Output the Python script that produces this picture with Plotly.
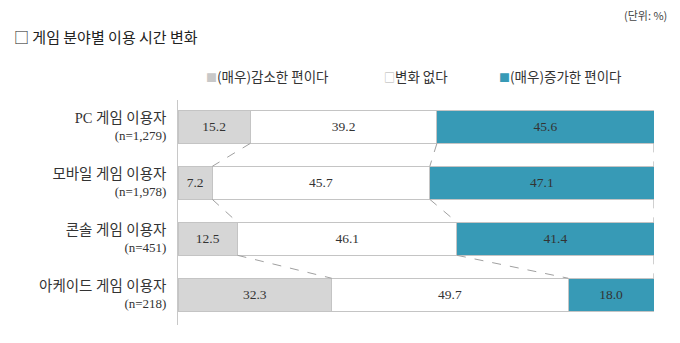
import plotly.graph_objects as go

cat_names = ["PC 게임 이용자", "모바일 게임 이용자", "콘솔 게임 이용자", "아케이드 게임 이용자"]
cat_n = ["(n=1,279)", "(n=1,978)", "(n=451)", "(n=218)"]
decreased = [15.2, 7.2, 12.5, 32.3]
no_change = [39.2, 45.7, 46.1, 49.7]
increased = [45.6, 47.1, 41.4, 18.0]
series_names = ["(매우)감소한 편이다", "변화 없다", "(매우)증가한 편이다"]

categories = [f'<span style="font-size:14.5px">{a}</span><br>{b}' for a, b in zip(cat_names, cat_n)]
pos = list(range(len(categories)))
BW = 0.59
colors = ["#d6d6d6", "#ffffff", "#379ab6"]
series = [decreased, no_change, increased]

fig = go.Figure()
for name, vals, col in zip(series_names, series, colors):
    fig.add_trace(go.Bar(
        y=pos, x=vals, orientation="h", name=name, width=BW,
        marker=dict(color=col, line=dict(color="#c4c4c4", width=1)),
        text=[f"{v:.1f}" for v in vals], textposition="inside",
        insidetextanchor="middle",
        textfont=dict(family="Liberation Serif", size=13.5, color="#333333"),
        showlegend=False, hoverinfo="skip",
    ))

# dashed connectors between consecutive bars
cum1 = decreased
cum2 = [a + b for a, b in zip(decreased, no_change)]
cum3 = [a + b + c for a, b, c in zip(decreased, no_change, increased)]
xs, ys = [], []
for cum in (cum1, cum2, cum3):
    for i in range(len(pos) - 1):
        xs += [cum[i], cum[i + 1], None]
        ys += [pos[i] + BW / 2, pos[i + 1] - BW / 2, None]
fig.add_trace(go.Scatter(x=xs, y=ys, mode="lines",
                         line=dict(color="#a0a0a0", width=1, dash="dash"),
                         showlegend=False, hoverinfo="skip", cliponaxis=False))

fig.update_layout(
    width=680, height=343, barmode="stack",
    margin=dict(l=178, r=26, t=100, b=18),
    plot_bgcolor="white", paper_bgcolor="white",
    font=dict(family="Noto Sans CJK KR", color="#333333"),
    xaxis=dict(range=[0, 100], visible=False, fixedrange=True),
    yaxis=dict(range=[3.54, -0.48], tickvals=pos, ticktext=categories,
               showline=True, linecolor="#c8c8c8", linewidth=1,
               showgrid=False, zeroline=False, ticks="",
               ticklabelstandoff=8,
               tickfont=dict(family="Liberation Serif, Noto Sans CJK KR", size=13, color="#333333")),
)

anns = [
    dict(text="□ 게임 분야별 이용 시간 변화", x=12, y=37, size=15, color="#222222", anchor="left"),
    dict(text="(단위: %)", x=669, y=15, size=11, color="#444444", anchor="right"),
    dict(text=f'<span style="color:#c8c8c8;font-size:11px">■</span>{series_names[0]}', x=204, y=76, size=13.5, color="#333333", anchor="left"),
    dict(text=f'<span style="color:#b0b0b0;font-size:11px">□</span>{series_names[1]}', x=382, y=76, size=13.5, color="#333333", anchor="left"),
    dict(text=f'<span style="color:{colors[2]};font-size:11px">■</span>{series_names[2]}', x=497, y=76, size=13.5, color="#333333", anchor="left"),
]
for a in anns:
    fig.add_annotation(text=a["text"], xref="paper", yref="paper",
                       x=(a["x"] - 178) / (680 - 178 - 26),
                       y=1 + (100 - a["y"]) / (343 - 100 - 18),
                       xanchor=a["anchor"], yanchor="middle", showarrow=False,
                       font=dict(size=a["size"], color=a["color"], family="Noto Sans CJK KR"))

fig.write_html("out.html")
